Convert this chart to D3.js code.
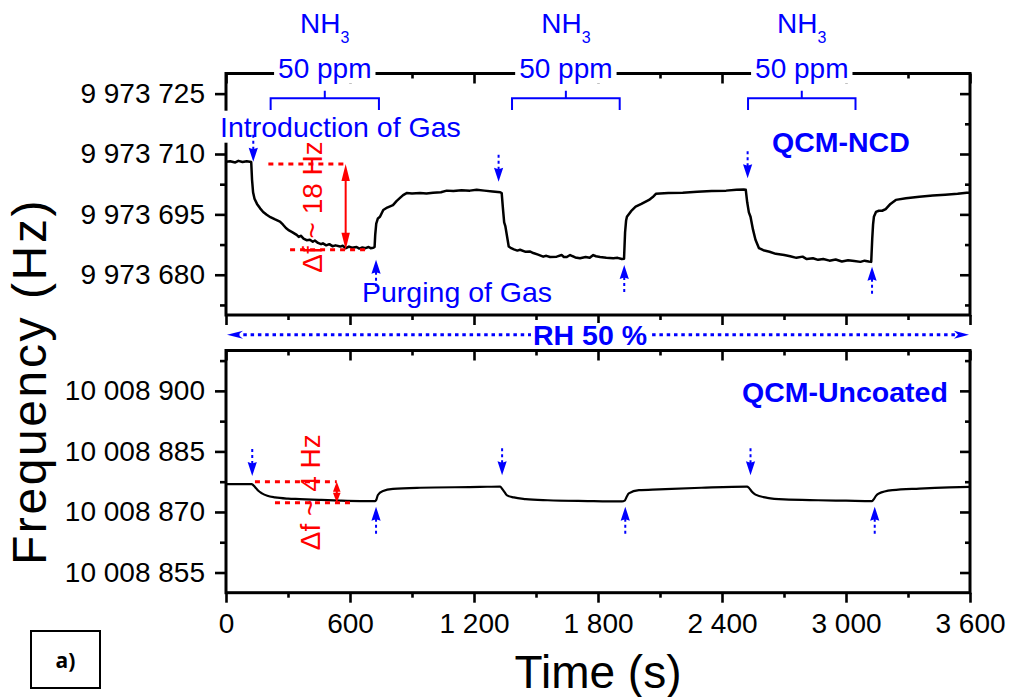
<!DOCTYPE html>
<html>
<head>
<meta charset="utf-8">
<script src="https://cdn.jsdelivr.net/npm/d3@7"></script>
<style>
  body { margin: 0; background: #fff; }
  svg { display: block; font-family: "Liberation Sans", Arial, sans-serif; }
</style>
</head>
<body>
<svg id="chart" width="1010" height="697"></svg>
<script>
// ---------- data ----------
// QCM-NCD sensor response (time in s, frequency in Hz)
const ncdTime = [0, 20, 45, 60, 80, 100, 115, 122,
  126, 131, 138, 150, 165, 180, 197, 215, 235, 261, 275, 290, 305, 320, 342, 352, 362, 375, 390, 406, 420, 430, 445, 460, 469, 485, 500, 515, 530, 552, 565, 580, 595, 610, 632, 645, 660, 675, 690, 700, 713, 719,
  722, 727, 735, 745, 761, 780, 808, 825, 842, 857, 874, 900, 939, 970, 1002, 1040, 1068, 1100, 1140, 1180, 1213, 1250, 1290, 1327, 1334,
  1340, 1346, 1352, 1360, 1368, 1380, 1393, 1410, 1423, 1450, 1470, 1487, 1510, 1535, 1550, 1568, 1600, 1624, 1635, 1649, 1665, 1690, 1713, 1740, 1760, 1777, 1790, 1810, 1840, 1874, 1895, 1915, 1926,
  1931, 1936, 1940, 1960, 1982, 2010, 2047, 2065, 2080, 2140, 2210, 2280, 2350, 2420, 2470, 2505, 2515,
  2522, 2530, 2538, 2550, 2562, 2579, 2600, 2630, 2660, 2701, 2730, 2760, 2790, 2810, 2840, 2865, 2890, 2920, 2950, 2980, 3010, 3040, 3070, 3090, 3110, 3122,
  3127, 3131, 3135, 3145, 3159, 3175, 3192, 3215, 3241, 3290, 3355, 3420, 3480, 3540, 3584, 3600];
const ncdFreq = [9973708.1, 9973708.2, 9973707.9, 9973708.3, 9973708.0, 9973708.2, 9973708.1, 9973708.0,
  9973703.6, 9973700.5, 9973698.9, 9973697.6, 9973696.5, 9973695.6, 9973694.9, 9973694.3, 9973693.8, 9973693.2, 9973692.5, 9973691.6, 9973691.0, 9973690.6, 9973689.9, 9973689.4, 9973689.7, 9973689.0, 9973688.6, 9973688.7, 9973688.2, 9973688.5, 9973687.9, 9973687.6, 9973687.8, 9973687.3, 9973687.6, 9973687.1, 9973687.3, 9973687.0, 9973687.2, 9973686.6, 9973687.0, 9973686.7, 9973686.9, 9973686.5, 9973686.8, 9973686.6, 9973686.9, 9973686.6, 9973686.7, 9973686.9,
  9973689.9, 9973692.7, 9973694.0, 9973694.4, 9973696.1, 9973696.7, 9973697.3, 9973698.3, 9973699.1, 9973699.8, 9973700.3, 9973700.2, 9973700.3, 9973700.2, 9973700.4, 9973700.5, 9973700.9, 9973700.8, 9973701.0, 9973700.9, 9973701.1, 9973700.9, 9973700.7, 9973700.5, 9973700.3,
  9973696.5, 9973693.0, 9973692.0, 9973689.5, 9973687.0, 9973686.6, 9973686.3, 9973686.0, 9973686.2, 9973685.7, 9973685.8, 9973685.4, 9973685.0, 9973684.5, 9973684.7, 9973684.4, 9973684.5, 9973684.9, 9973684.4, 9973684.4, 9973684.9, 9973684.3, 9973684.1, 9973684.4, 9973684.2, 9973684.9, 9973684.6, 9973684.4, 9973684.2, 9973684.1, 9973684.2, 9973683.9, 9973684.0,
  9973690.5, 9973693.5, 9973694.4, 9973695.8, 9973696.9, 9973697.6, 9973698.6, 9973699.3, 9973700.1, 9973700.3, 9973700.4, 9973700.6, 9973700.8, 9973700.9, 9973701.1, 9973701.2, 9973701.1,
  9973698.0, 9973695.5, 9973694.4, 9973691.2, 9973688.7, 9973686.6, 9973686.1, 9973685.7, 9973685.2, 9973684.9, 9973684.6, 9973684.2, 9973684.5, 9973683.9, 9973684.1, 9973683.7, 9973683.9, 9973683.5, 9973683.8, 9973683.3, 9973683.6, 9973683.4, 9973683.2, 9973683.5, 9973683.3, 9973683.2,
  9973689.0, 9973692.5, 9973694.4, 9973695.6, 9973695.9, 9973695.9, 9973696.3, 9973697.6, 9973698.6, 9973699.0, 9973699.4, 9973699.7, 9973699.9, 9973700.1, 9973700.4, 9973700.4];

// Uncoated QCM response
const uncTime = [0, 60, 124, 140, 155, 174, 200, 237, 300, 358, 450, 552, 650, 722,
  727, 735, 760, 808, 939, 1229, 1327,
  1335, 1348, 1360, 1393, 1450, 1556, 1750, 1916, 1929,
  1940, 1949, 1998, 2096, 2300, 2521,
  2530, 2545, 2562, 2619, 2700, 2865, 3000, 3126,
  3135, 3145, 3159, 3225, 3355, 3500, 3600];
const uncFreq = [10008876.9, 10008876.9, 10008876.9, 10008876.2, 10008875.3, 10008874.6, 10008874.0, 10008873.6, 10008873.3, 10008873.2, 10008873.0, 10008872.8, 10008872.7, 10008872.7,
  10008873.0, 10008874.2, 10008875.2, 10008875.7, 10008876.0, 10008876.2, 10008876.3,
  10008875.8, 10008874.9, 10008874.1, 10008873.6, 10008873.2, 10008872.9, 10008872.7, 10008872.6, 10008872.8,
  10008873.9, 10008874.6, 10008875.4, 10008875.6, 10008876.0, 10008876.3,
  10008876.0, 10008875.0, 10008874.3, 10008873.5, 10008873.1, 10008872.9, 10008872.8, 10008872.7,
  10008873.2, 10008874.0, 10008874.6, 10008875.4, 10008875.8, 10008876.1, 10008876.2];

// axis ticks
const timeTicks = [0, 600, 1200, 1800, 2400, 3000, 3600];
const timeTickLabels = ["0", "600", "1 200", "1 800", "2 400", "3 000", "3 600"];
const timeMinorTicks = [300, 900, 1500, 2100, 2700, 3300];
const ncdTicks = [9973680, 9973695, 9973710, 9973725];
const ncdTickLabels = ["9 973 680", "9 973 695", "9 973 710", "9 973 725"];
const ncdMinorTicks = [9973672.5, 9973687.5, 9973702.5, 9973717.5];
const uncTicks = [10008855, 10008870, 10008885, 10008900];
const uncTickLabels = ["10 008 855", "10 008 870", "10 008 885", "10 008 900"];
const uncMinorTicks = [10008862.5, 10008877.5, 10008892.5, 10008907.5];

// gas exposure windows (NH3 50 ppm)
const exposureStart = [216, 1384, 2526];
const exposureEnd = [740, 1905, 3046];

// gas introduction / purge events and where their arrows point
const ncdInTimes = [132, 1319, 2524];
const ncdInFreq = [9973708.1, 9973703.1, 9973704.0];
const ncdPurgeTimes = [726, 1927, 3126];
const ncdPurgeFreq = [9973683.7, 9973682.4, 9973682.0];
const uncInTimes = [127, 1336, 2538];
const uncInFreq = [10008878.9, 10008879.1, 10008879.1];
const uncPurgeTimes = [726, 1932, 3139];
const uncPurgeFreq = [10008871.3, 10008871.3, 10008871.3];

// frequency shift markers
const ncdShiftLevels = [9973707.5, 9973686.2];
const ncdShiftSpan = [[205, 584], [310, 681]];
const ncdShiftAt = 579;
const uncShiftLevels = [10008877.5, 10008872.3];
const uncShiftSpan = [[140, 536], [237, 608]];
const uncShiftAt = 536;

// ---------- drawing ----------
const svg = d3.select("#chart");
const BLUE = "#0000ff", RED = "#ff0000";
const FONT = "'Liberation Sans', Arial, sans-serif";

const x = d3.scaleLinear().domain([0, 3600]).range([226, 970]);
const yTop = d3.scaleLinear().domain([9973670, 9973730]).range([315, 73.5]);
const yBot = d3.scaleLinear().domain([10008850, 10008910]).range([592.7, 350.5]);

function styleAxis(g) {
  g.select(".domain").remove();
  g.selectAll(".tick line").attr("stroke", "#000").attr("stroke-width", 2.6);
  g.selectAll(".tick text").attr("font-family", FONT).attr("font-size", 28).attr("fill", "#000");
}

function panel(y, ticks, tickLabels, minor, showTimeLabels) {
  const [y0, y1] = y.range(); // bottom, top
  const g = svg.append("g");
  // left axis
  g.append("g").attr("transform", `translate(${x(0)},0)`)
    .call(d3.axisLeft(y).tickValues(ticks).tickFormat((d, i) => tickLabels[i]).tickSize(11).tickPadding(10).tickSizeOuter(0))
    .call(styleAxis);
  g.append("g").attr("transform", `translate(${x(0)},0)`)
    .call(d3.axisLeft(y).tickValues(minor).tickFormat("").tickSize(6).tickSizeOuter(0)).call(styleAxis);
  // right mirror axis (inward)
  g.append("g").attr("transform", `translate(${x(3600)},0)`)
    .call(d3.axisRight(y).tickValues(ticks).tickFormat("").tickSize(-10).tickSizeOuter(0)).call(styleAxis);
  g.append("g").attr("transform", `translate(${x(3600)},0)`)
    .call(d3.axisRight(y).tickValues(minor).tickFormat("").tickSize(-5).tickSizeOuter(0)).call(styleAxis);
  // bottom axis (outward)
  g.append("g").attr("transform", `translate(0,${y0})`)
    .call(d3.axisBottom(x).tickValues(timeTicks).tickFormat(showTimeLabels ? (d, i) => timeTickLabels[i] : "").tickSize(10).tickPadding(10).tickSizeOuter(0))
    .call(styleAxis);
  g.append("g").attr("transform", `translate(0,${y0})`)
    .call(d3.axisBottom(x).tickValues(timeMinorTicks).tickFormat("").tickSize(5).tickSizeOuter(0)).call(styleAxis);
  // top mirror axis (inward)
  g.append("g").attr("transform", `translate(0,${y1})`)
    .call(d3.axisTop(x).tickValues(timeTicks).tickFormat("").tickSize(-10).tickSizeOuter(0)).call(styleAxis);
  g.append("g").attr("transform", `translate(0,${y1})`)
    .call(d3.axisTop(x).tickValues(timeMinorTicks).tickFormat("").tickSize(-5).tickSizeOuter(0)).call(styleAxis);
  // frame
  g.append("rect")
    .attr("x", x(0)).attr("y", y1)
    .attr("width", x(3600) - x(0)).attr("height", y0 - y1)
    .attr("fill", "none").attr("stroke", "#000").attr("stroke-width", 3);
  return g;
}

panel(yTop, ncdTicks, ncdTickLabels, ncdMinorTicks, false);
panel(yBot, uncTicks, uncTickLabels, uncMinorTicks, true);

// response curves
const ncdLine = d3.line().x(d => x(d[0])).y(d => yTop(d[1]));
svg.append("path")
  .datum(d3.zip(ncdTime, ncdFreq))
  .attr("d", ncdLine)
  .attr("fill", "none").attr("stroke", "#000").attr("stroke-width", 2.5).attr("stroke-linejoin", "round");

const uncLine = d3.line().x(d => x(d[0])).y(d => yBot(d[1])).curve(d3.curveMonotoneX);
svg.append("path")
  .datum(d3.zip(uncTime, uncFreq))
  .attr("d", uncLine)
  .attr("fill", "none").attr("stroke", "#000").attr("stroke-width", 2.2).attr("stroke-linejoin", "round");

// frequency-shift markers (red)
function shiftMarker(y, levels, spans, at, headLen, headW, label, labelX) {
  const g = svg.append("g");
  levels.forEach((lv, i) => {
    g.append("line")
      .attr("x1", x(spans[i][0])).attr("x2", x(spans[i][1]))
      .attr("y1", y(lv)).attr("y2", y(lv))
      .attr("stroke", RED).attr("stroke-width", 3).attr("stroke-dasharray", "5,5");
  });
  const ax = x(at), ya = y(levels[0]), yb = y(levels[1]);
  g.append("line").attr("x1", ax).attr("x2", ax).attr("y1", ya + headLen - 2).attr("y2", yb - headLen + 2)
    .attr("stroke", RED).attr("stroke-width", 2);
  g.append("path").attr("d", `M${ax},${ya} L${ax - headW},${ya + headLen} L${ax + headW},${ya + headLen} Z`).attr("fill", RED);
  g.append("path").attr("d", `M${ax},${yb} L${ax - headW},${yb - headLen} L${ax + headW},${yb - headLen} Z`).attr("fill", RED);
  g.append("text")
    .attr("transform", `translate(${labelX},${(ya + yb) / 2}) rotate(-90)`)
    .attr("text-anchor", "middle")
    .attr("font-family", FONT).attr("font-size", 28).attr("fill", RED)
    .text(label);
}
shiftMarker(yTop, ncdShiftLevels, ncdShiftSpan, ncdShiftAt, 17, 4.2, "Δf ~ 18 Hz", 322);
shiftMarker(yBot, uncShiftLevels, uncShiftSpan, uncShiftAt, 10, 3.8, "Δf ~ 4 Hz", 320);

// text with a white backing box
function boxedText(px, py, str, opts) {
  const g = svg.append("g");
  const r = g.append("rect").attr("fill", "#fff");
  const t = g.append("text")
    .attr("x", px).attr("y", py)
    .attr("text-anchor", opts.anchor || "start")
    .attr("font-family", FONT).attr("font-size", opts.size || 28)
    .attr("font-weight", opts.weight || "normal")
    .attr("fill", opts.color || BLUE)
    .text(str);
  const b = t.node().getBBox();
  const padX = opts.padX ?? 3, top = opts.trimTop ?? 0, bottom = opts.trimBottom ?? 0;
  r.attr("x", b.x - padX).attr("y", b.y + top)
    .attr("width", b.width + 2 * padX).attr("height", b.height - top - bottom);
  return t;
}

// gas exposure brackets and labels
exposureStart.forEach((s, i) => {
  const xs = x(s), xe = x(exposureEnd[i]), xm = (xs + xe) / 2;
  boxedText(xm, 77.5, "50 ppm", { anchor: "middle", size: 28, padX: 4 });
  const nh = svg.append("text")
    .attr("x", xm).attr("y", 33)
    .attr("text-anchor", "middle")
    .attr("font-family", FONT).attr("font-size", 28).attr("fill", BLUE);
  nh.append("tspan").text("NH");
  nh.append("tspan").attr("dy", 10).attr("font-size", 16).text("3");
  svg.append("path")
    .attr("d", `M${xs},110 V98.3 H${xe} V110 M${xm},98.3 V90.7`)
    .attr("fill", "none").attr("stroke", BLUE).attr("stroke-width", 2);
});

boxedText(220, 136.7, "Introduction of Gas", { size: 28.5, padX: 2 });
svg.append("text").attr("x", 362).attr("y", 301.7)
  .attr("font-family", FONT).attr("font-size", 28.5).attr("fill", BLUE)
  .text("Purging of Gas");
svg.append("text").attr("x", 772).attr("y", 151.7)
  .attr("font-family", FONT).attr("font-size", 28.5).attr("font-weight", "bold").attr("fill", BLUE)
  .text("QCM-NCD");
svg.append("text").attr("x", 742).attr("y", 401.7)
  .attr("font-family", FONT).attr("font-size", 28.5).attr("font-weight", "bold").attr("fill", BLUE)
  .text("QCM-Uncoated");

// relative humidity span (whole run)
const rhY = 334.8;
svg.append("line")
  .attr("x1", x(0) + 10).attr("x2", x(3600) - 10)
  .attr("y1", rhY).attr("y2", rhY)
  .attr("stroke", BLUE).attr("stroke-width", 3).attr("stroke-dasharray", "3.5,3.8");
svg.append("path")
  .attr("d", `M${x(0) + 1},${rhY} L${x(0) + 17},${rhY - 4} L${x(0) + 12},${rhY} L${x(0) + 17},${rhY + 4} Z`)
  .attr("fill", BLUE);
svg.append("path")
  .attr("d", `M${x(3600) - 1},${rhY} L${x(3600) - 16},${rhY - 4} L${x(3600) - 12},${rhY} L${x(3600) - 16},${rhY + 4} Z`)
  .attr("fill", BLUE);
boxedText(590, 345, "RH 50 %", { anchor: "middle", size: 28.5, weight: "bold", padX: 2, trimTop: 4, trimBottom: 6 });

// event arrows: dotted tail + filled head
function eventArrow(px, tipY, dir) {
  // dir = 1 points down, -1 points up
  const head = 14, tail = 13, hw = 4.6;
  const back = tipY - dir * head;
  svg.append("line")
    .attr("x1", px).attr("x2", px)
    .attr("y1", back - dir * tail).attr("y2", back + dir * 2)
    .attr("stroke", BLUE).attr("stroke-width", 2).attr("stroke-dasharray", "3,3");
  svg.append("path")
    .attr("d", `M${px},${tipY} L${px - hw},${back} L${px},${back + dir * 1.5} L${px + hw},${back} Z`)
    .attr("fill", BLUE);
}
ncdInTimes.forEach((t, i) => eventArrow(x(t), yTop(ncdInFreq[i]), 1));
ncdPurgeTimes.forEach((t, i) => eventArrow(x(t), yTop(ncdPurgeFreq[i]), -1));
uncInTimes.forEach((t, i) => eventArrow(x(t), yBot(uncInFreq[i]), 1));
uncPurgeTimes.forEach((t, i) => eventArrow(x(t), yBot(uncPurgeFreq[i]), -1));

// axis titles
svg.append("text")
  .attr("transform", "translate(46,381.5) rotate(-90)")
  .attr("text-anchor", "middle")
  .attr("font-family", FONT).attr("font-size", 48).attr("letter-spacing", 2.6)
  .attr("fill", "#000")
  .text("Frequency (Hz)");
svg.append("text")
  .attr("x", (x(0) + x(3600)) / 2).attr("y", 688)
  .attr("text-anchor", "middle")
  .attr("font-family", FONT).attr("font-size", 46).attr("fill", "#000")
  .text("Time (s)");

// panel tag
svg.append("rect").attr("x", 31).attr("y", 631).attr("width", 69).attr("height", 57)
  .attr("fill", "none").attr("stroke", "#000").attr("stroke-width", 2);
svg.append("text").attr("x", 65.5).attr("y", 668)
  .attr("text-anchor", "middle")
  .attr("font-family", "'Open Sans', 'Liberation Sans', sans-serif").attr("font-size", 21).attr("font-weight", "bold")
  .attr("fill", "#000")
  .text("a)");
</script>
</body>
</html>
